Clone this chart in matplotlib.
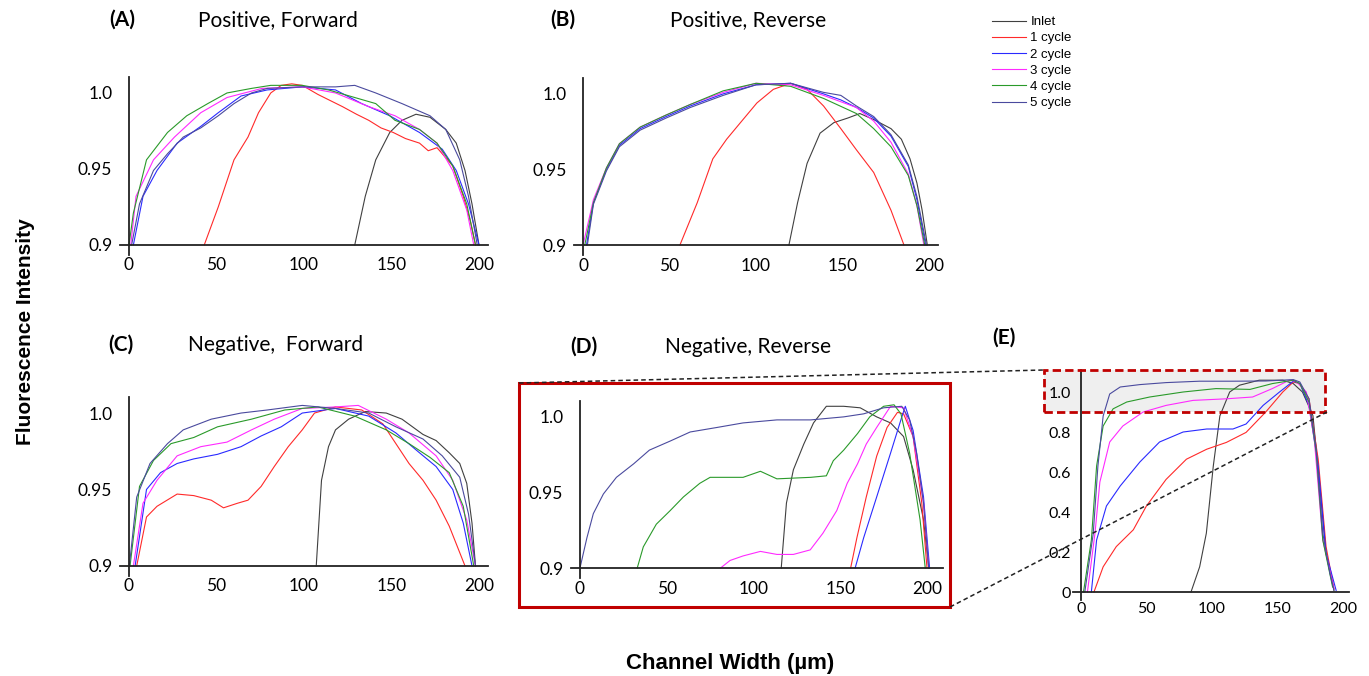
import matplotlib
matplotlib.use('Agg')
import matplotlib.pyplot as plt
from matplotlib.patches import Rectangle
from matplotlib.lines import Line2D

# series names / colours
labels = ['Inlet', '1 cycle', '2 cycle', '3 cycle', '4 cycle', '5 cycle']
colors = ['#404040', '#ff2a2a', '#2a2aff', '#ff2aff', '#2a9a2a', '#4a4a9e']

# (A) Positive, Forward
a_inlet_x = [129, 135, 141, 149, 156, 164, 172, 181, 187, 192, 196, 200]
a_inlet_y = [0.9, 0.932, 0.956, 0.974, 0.982, 0.986, 0.984, 0.976, 0.967, 0.949, 0.927, 0.9]
a_c1_x = [43, 51, 60, 68, 74, 81, 87, 93, 99, 108, 115, 122, 130, 137, 144, 151, 158, 166, 171, 176, 185, 191, 195, 198]
a_c1_y = [0.9, 0.925, 0.956, 0.971, 0.987, 1.0, 1.005, 1.006, 1.005, 0.999, 0.995, 0.991, 0.986, 0.982, 0.977, 0.974, 0.970, 0.967, 0.962, 0.964, 0.952, 0.932, 0.916, 0.9]
a_c2_x = [2.5, 8, 16, 27.5, 41, 51, 64, 79, 99, 118, 133, 149, 166, 179, 187, 194, 200]
a_c2_y = [0.9, 0.932, 0.949, 0.967, 0.978, 0.987, 0.998, 1.002, 1.004, 1.002, 0.993, 0.985, 0.974, 0.963, 0.949, 0.927, 0.9]
a_c3_x = [1, 4, 14, 26, 41, 56, 76, 99, 118, 137, 152, 166, 176, 185, 193, 197]
a_c3_y = [0.9, 0.932, 0.956, 0.971, 0.987, 0.997, 1.003, 1.004, 1.0, 0.991, 0.985, 0.976, 0.967, 0.949, 0.923, 0.9]
a_c4_x = [0, 2.5, 10, 22, 33, 45, 56, 70, 81, 99, 114, 129, 141, 152, 166, 176, 185, 193, 198]
a_c4_y = [0.9, 0.921, 0.956, 0.974, 0.985, 0.993, 1.0, 1.003, 1.005, 1.005, 1.002, 0.997, 0.993, 0.982, 0.976, 0.967, 0.952, 0.927, 0.9]
a_c5_x = [1.5, 6, 14, 22, 31, 41, 51, 60, 70, 79, 99, 118, 129, 141, 156, 172, 181, 189, 194, 199]
a_c5_y = [0.9, 0.927, 0.949, 0.960, 0.971, 0.977, 0.985, 0.993, 1.0, 1.003, 1.004, 1.004, 1.005, 1.0, 0.993, 0.985, 0.976, 0.956, 0.932, 0.9]

# (B) Positive, Reverse
b_inlet_x = [119, 124, 129.5, 137, 145, 153, 160, 168, 178, 184, 189, 193, 196, 199]
b_inlet_y = [0.9, 0.928, 0.954, 0.974, 0.981, 0.984, 0.987, 0.983, 0.977, 0.970, 0.957, 0.941, 0.923, 0.9]
b_c1_x = [56, 66, 75, 83, 91, 100.5, 110, 120, 129.5, 139, 149, 158, 168, 178, 185.5]
b_c1_y = [0.9, 0.928, 0.957, 0.970, 0.981, 0.994, 1.003, 1.007, 1.003, 0.992, 0.977, 0.963, 0.948, 0.923, 0.9]
b_c2_x = [2, 6, 13.5, 21, 33, 48, 62, 81, 100, 120, 139, 149, 158, 168, 178, 188, 193, 198]
b_c2_y = [0.9, 0.928, 0.950, 0.966, 0.977, 0.985, 0.992, 1.0, 1.006, 1.007, 1.0, 0.996, 0.991, 0.984, 0.972, 0.952, 0.930, 0.9]
b_c3_x = [0, 6, 13.5, 21, 33, 48, 62, 81, 100, 120, 139, 158, 168, 178, 188, 193, 197]
b_c3_y = [0.9, 0.930, 0.951, 0.967, 0.978, 0.986, 0.993, 1.001, 1.007, 1.006, 0.999, 0.991, 0.982, 0.968, 0.947, 0.926, 0.9]
b_c4_x = [1, 6, 13.5, 21, 33, 48, 62, 81, 100, 120, 139, 158, 168, 178, 188, 193, 197.5]
b_c4_y = [0.9, 0.928, 0.951, 0.967, 0.978, 0.986, 0.993, 1.002, 1.007, 1.005, 0.997, 0.987, 0.977, 0.965, 0.946, 0.926, 0.9]
b_c5_x = [2.5, 6, 13.5, 21, 33, 48, 62, 81, 100, 120, 139, 149, 158, 168, 178, 188, 193, 198.5]
b_c5_y = [0.9, 0.927, 0.949, 0.965, 0.976, 0.984, 0.991, 0.999, 1.006, 1.007, 1.001, 0.999, 0.992, 0.985, 0.973, 0.953, 0.932, 0.9]

# (C) Negative, Forward
c_inlet_x = [107, 110, 114, 118, 125.5, 135, 147, 156, 168, 175.5, 183, 189, 193, 196, 198]
c_inlet_y = [0.9, 0.956, 0.978, 0.989, 0.996, 1.001, 1.0, 0.996, 0.986, 0.982, 0.974, 0.967, 0.954, 0.928, 0.9]
c_c1_x = [4.4, 10, 16, 27.5, 37, 47, 54, 62, 68, 75.5, 83, 91, 99, 106, 118, 133, 145, 152.5, 160, 168, 175.5, 183, 192]
c_c1_y = [0.9, 0.932, 0.939, 0.947, 0.946, 0.943, 0.938, 0.941, 0.943, 0.952, 0.965, 0.978, 0.989, 1.0, 1.004, 1.002, 0.993, 0.980, 0.967, 0.956, 0.943, 0.926, 0.9]
c_c2_x = [3.5, 10, 18, 27.5, 37, 50.6, 64, 75.5, 87, 99, 118, 137, 152.5, 166, 175.5, 185, 191, 196]
c_c2_y = [0.9, 0.950, 0.961, 0.967, 0.970, 0.973, 0.978, 0.985, 0.991, 1.0, 1.003, 0.998, 0.987, 0.974, 0.965, 0.950, 0.928, 0.9]
c_c3_x = [2.5, 8, 16, 27.5, 41, 56, 70, 83, 99, 118, 131, 147, 160, 175.5, 185, 193, 198]
c_c3_y = [0.9, 0.941, 0.956, 0.972, 0.978, 0.981, 0.989, 0.996, 1.003, 1.004, 1.005, 0.996, 0.987, 0.972, 0.956, 0.930, 0.9]
c_c4_x = [0.6, 6, 14, 24, 37, 50.6, 70, 89, 108, 129, 147, 160, 172, 183, 191, 197]
c_c4_y = [0.9, 0.952, 0.969, 0.980, 0.984, 0.991, 0.996, 1.002, 1.004, 0.998, 0.989, 0.980, 0.971, 0.961, 0.939, 0.9]
c_c5_x = [0.2, 4.4, 12, 22, 31, 47, 64, 79, 99, 118, 137, 152.5, 168, 179, 189, 194, 198]
c_c5_y = [0.9, 0.945, 0.967, 0.980, 0.989, 0.996, 1.0, 1.002, 1.005, 1.003, 1.0, 0.991, 0.983, 0.972, 0.958, 0.934, 0.9]

# (D) Negative, Reverse
d_inlet_x = [116, 119, 123, 129, 134.6, 142, 152, 161.5, 171, 179, 186.5, 192, 198, 201]
d_inlet_y = [0.9, 0.943, 0.965, 0.982, 0.996, 1.007, 1.007, 1.006, 1.0, 0.996, 0.987, 0.965, 0.932, 0.9]
d_c1_x = [156, 159.6, 165, 171, 177, 183, 186.5, 192, 197, 200]
d_c1_y = [0.9, 0.920, 0.947, 0.974, 0.993, 1.003, 1.002, 0.987, 0.943, 0.9]
d_c2_x = [158.6, 163.5, 171, 179, 185.5, 187.5, 192, 198, 201.5]
d_c2_y = [0.9, 0.920, 0.947, 0.976, 1.0, 1.007, 0.991, 0.947, 0.9]
d_c3_x = [81, 86.5, 94, 104, 113.5, 123, 132.7, 140, 148, 154, 160, 165, 171, 179, 186.5, 192, 198, 201]
d_c3_y = [0.9, 0.905, 0.908, 0.911, 0.909, 0.909, 0.912, 0.923, 0.938, 0.956, 0.969, 0.982, 0.993, 1.007, 1.006, 0.987, 0.943, 0.9]
d_c4_x = [33, 36.5, 44, 52, 59.6, 69, 75, 94, 104, 113.5, 133, 142, 146, 152, 160, 167, 175, 181, 185, 190, 196, 199]
d_c4_y = [0.9, 0.914, 0.929, 0.938, 0.947, 0.956, 0.960, 0.960, 0.964, 0.959, 0.960, 0.961, 0.971, 0.978, 0.989, 1.0, 1.007, 1.008, 1.002, 0.976, 0.932, 0.9]
d_c5_x = [0, 4, 7.7, 13.5, 21, 31, 40, 52, 63.5, 79, 94, 113.5, 133, 152, 163.5, 175, 185.5, 190, 194, 198, 201]
d_c5_y = [0.9, 0.920, 0.936, 0.949, 0.960, 0.969, 0.978, 0.984, 0.990, 0.993, 0.996, 0.998, 0.998, 1.0, 1.002, 1.006, 1.007, 0.998, 0.976, 0.943, 0.9]

# (E) full range
e_inlet_x = [84, 90.6, 95.7, 101, 106, 113.5, 121, 136, 154, 162, 169, 177, 182, 187, 193]
e_inlet_y = [0.0, 0.126, 0.294, 0.63, 0.88, 1.0, 1.034, 1.059, 1.059, 1.042, 1.0, 0.882, 0.546, 0.193, 0.008]
e_c1_x = [10, 17, 27, 40, 50, 65, 80.5, 96, 111, 126, 141, 154, 162, 167, 174, 181, 187, 193]
e_c1_y = [0.0, 0.126, 0.227, 0.311, 0.43, 0.563, 0.664, 0.714, 0.748, 0.798, 0.90, 1.0, 1.05, 1.042, 0.966, 0.664, 0.227, 0.017]
e_c2_x = [8, 12, 19.5, 30, 45, 60, 78, 96, 116, 126, 139, 151.5, 162, 167, 174, 181, 187, 194.7]
e_c2_y = [0.0, 0.26, 0.43, 0.53, 0.65, 0.75, 0.80, 0.815, 0.815, 0.84, 0.933, 1.0, 1.054, 1.042, 0.933, 0.63, 0.193, 0.008]
e_c3_x = [5, 10.7, 14.5, 22, 32, 47.5, 65, 85.5, 111, 131, 146, 159, 164, 172, 178, 184.5, 193]
e_c3_y = [0.0, 0.29, 0.55, 0.75, 0.83, 0.90, 0.933, 0.958, 0.966, 0.975, 1.017, 1.059, 1.054, 1.0, 0.765, 0.26, 0.017]
e_c4_x = [2, 8, 12, 17, 24.6, 35, 52.5, 78, 103, 129, 146, 162, 167, 174, 179.5, 184.5, 192]
e_c4_y = [0.0, 0.26, 0.63, 0.83, 0.916, 0.95, 0.975, 1.0, 1.017, 1.013, 1.042, 1.059, 1.042, 0.95, 0.70, 0.26, 0.025]
e_c5_x = [3, 9.4, 13, 17, 22, 30, 45, 65, 90.6, 116, 141, 162, 167, 174, 179.5, 184.5, 190, 193]
e_c5_y = [0.0, 0.29, 0.63, 0.88, 0.99, 1.025, 1.037, 1.047, 1.054, 1.054, 1.055, 1.062, 1.05, 0.966, 0.714, 0.294, 0.092, 0.01]

xticks = [0, 50, 100, 150, 200]
yticks_zoom = [0.9, 0.95, 1.0]
yticklabels_zoom = ['0.9', '0.95', '1.0']
yticks_full = [0, 0.2, 0.4, 0.6, 0.8, 1.0]
yticklabels_full = ['0', '0.2', '0.4', '0.6', '0.8', '1.0']

W, H = 1369, 676
fig = plt.figure(figsize=(W / 100, H / 100), dpi=100)
tickfont = 'Lato'


def px(x, y):
    return x / W, 1 - y / H


def make_axes(l, t, r, b):
    return fig.add_axes([l / W, 1 - b / H, (r - l) / W, (b - t) / H])


def style(ax, xlim, ylim, ycross, yt, ytl, fs, ypad, xpad):
    ax.set_xlim(*xlim)
    ax.set_ylim(*ylim)
    for s in ['top', 'right']:
        ax.spines[s].set_visible(False)
    ax.spines['left'].set_position(('data', 0))
    ax.spines['bottom'].set_position(('data', ycross))
    for s in ['left', 'bottom']:
        ax.spines[s].set_linewidth(1.3)
        ax.spines[s].set_color('#222222')
    ax.set_xticks(xticks)
    ax.set_xticklabels([str(v) for v in xticks], fontsize=fs, family=tickfont)
    ax.set_yticks(yt)
    ax.set_yticklabels(ytl, fontsize=fs, family=tickfont)
    ax.tick_params(axis='y', length=0, pad=ypad)
    ax.tick_params(axis='x', length=0, pad=xpad)
    ax.patch.set_alpha(0)


def draw(ax, curves):
    for (x, y), c, lab in zip(curves, colors, labels):
        ax.plot(x, y, color=c, lw=0.8, label=lab)


axA = make_axes(120.25, 77, 487.75, 255)
axB = make_axes(574.4, 78, 937.7, 255)
axC = make_axes(120.25, 397, 487.75, 576)
axD = make_axes(571.3, 401, 942.6, 578)
axE = make_axes(1073, 370, 1349, 600)

draw(axA, [(a_inlet_x, a_inlet_y), (a_c1_x, a_c1_y), (a_c2_x, a_c2_y),
           (a_c3_x, a_c3_y), (a_c4_x, a_c4_y), (a_c5_x, a_c5_y)])
draw(axB, [(b_inlet_x, b_inlet_y), (b_c1_x, b_c1_y), (b_c2_x, b_c2_y),
           (b_c3_x, b_c3_y), (b_c4_x, b_c4_y), (b_c5_x, b_c5_y)])
draw(axC, [(c_inlet_x, c_inlet_y), (c_c1_x, c_c1_y), (c_c2_x, c_c2_y),
           (c_c3_x, c_c3_y), (c_c4_x, c_c4_y), (c_c5_x, c_c5_y)])
draw(axD, [(d_inlet_x, d_inlet_y), (d_c1_x, d_c1_y), (d_c2_x, d_c2_y),
           (d_c3_x, d_c3_y), (d_c4_x, d_c4_y), (d_c5_x, d_c5_y)])
draw(axE, [(e_inlet_x, e_inlet_y), (e_c1_x, e_c1_y), (e_c2_x, e_c2_y),
           (e_c3_x, e_c3_y), (e_c4_x, e_c4_y), (e_c5_x, e_c5_y)])

for ax in [axA, axB, axC]:
    style(ax, (-5, 205), (0.8934, 1.0105), 0.9, yticks_zoom, yticklabels_zoom, 12.5, 12, 9)
style(axD, (-5, 209), (0.8934, 1.0105), 0.9, yticks_zoom, yticklabels_zoom, 12.5, 12, 9)
style(axE, (-6, 204.5), (-0.04, 1.11), 0, yticks_full, yticklabels_full, 11.5, 7, 7)

# zoom window in (E)
axE.add_patch(Rectangle((-28, 0.9), 214, 0.21, facecolor='#efefef', edgecolor='none',
                        clip_on=False, zorder=0))
axE.add_patch(Rectangle((-28, 0.9), 214, 0.21, facecolor='none', edgecolor='#c00000',
                        lw=2, ls=(0, (3, 1.5)), clip_on=False, zorder=5))

# red frame around (D) and dashed guides
fig.add_artist(Rectangle(px(519, 607), 431 / W, 224 / H, transform=fig.transFigure,
                         facecolor='none', edgecolor='#c00000', lw=2.2))
for (x0, y0), (x1, y1) in [((519, 383), (1044, 370)), ((950, 607), (1327, 412))]:
    p0, p1 = px(x0, y0), px(x1, y1)
    fig.add_artist(Line2D([p0[0], p1[0]], [p0[1], p1[1]], transform=fig.transFigure,
                          color='#222222', lw=1.1, ls=(0, (3, 2))))

# titles
tf = dict(fontsize=15, family=tickfont, ha='center', va='center')
for x, y, t in [(122, 20, '(A)'), (563, 20, '(B)'), (121, 345, '(C)'),
                (584, 347, '(D)'), (1004, 338, '(E)')]:
    fig.text(*px(x, y), t, fontweight='bold', **tf)
for x, y, t in [(278, 20, 'Positive, Forward'), (748, 20, 'Positive, Reverse'),
                (276, 345, 'Negative,  Forward'), (748, 347, 'Negative, Reverse')]:
    fig.text(*px(x, y), t, **tf)

fig.text(*px(26, 332), 'Fluorescence Intensity', rotation=90, fontsize=15,
         fontweight='bold', family='Liberation Sans', ha='center', va='center')
fig.text(*px(730, 663), 'Channel Width (µm)', fontsize=16, fontweight='bold',
         family='Liberation Sans', ha='center', va='center')

handles, labs = axA.get_legend_handles_labels()
fig.legend(handles, labs, loc='upper left', bbox_to_anchor=px(992, 16), frameon=False,
           prop={'family': 'Liberation Sans', 'size': 9.5}, handlelength=2.6,
           handletextpad=0.3, labelspacing=0.3, borderpad=0, borderaxespad=0)

fig.savefig('out.png', dpi=100)
